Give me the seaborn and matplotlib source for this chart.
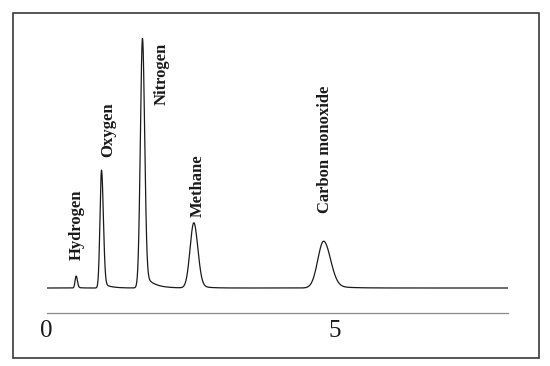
import numpy as np
import pandas as pd
import matplotlib
matplotlib.use("Agg")
import matplotlib.pyplot as plt
import seaborn as sns
from matplotlib.patches import Rectangle

# peak table (time in min, height in detector units)
peak_names = ["Hydrogen", "Oxygen", "Nitrogen", "Methane", "Carbon monoxide"]
retention_times = [0.51, 0.95, 1.66, 2.55, 4.80]
peak_heights = [11.5, 115, 241, 63, 45]
sigma_left = [0.018, 0.026, 0.036, 0.065, 0.10]
sigma_right = [0.022, 0.032, 0.038, 0.07, 0.12]
tail_fraction = [0.08, 0.05, 0.07, 0.07, 0.08]
tail_tau = [0.06, 0.12, 0.15, 0.14, 0.25]

# label anchor (centre x, bottom of text) for each peak name
label_x = [0.525, 1.06, 2.00, 2.62, 4.82]
label_y = [28, 131, 183, 71, 75]

# -------------------
# BUILD THE SIGNAL
# -------------------
t = np.linspace(0, 8, 4001)
signal = np.zeros_like(t)
for t0, h, sl, sr, frac, tau in zip(retention_times, peak_heights, sigma_left,
                                    sigma_right, tail_fraction, tail_tau):
    s = np.where(t < t0, sl, sr)
    core = np.exp(-0.5 * ((t - t0) / s) ** 2)
    step = 0.5 * (1 + np.tanh((t - t0) / sr))
    tail = frac * np.exp(-np.clip(t - t0, 0, None) / tau) * step
    signal += h * (core + tail)

df = pd.DataFrame({"time": t, "signal": signal})

# -------------------
# PLOT
# -------------------
sns.set_style("white")
plt.rcParams["font.family"] = ["Liberation Serif", "DejaVu Serif"]

fig = plt.figure(figsize=(5.5, 3.66), dpi=100)
ax = fig.add_axes([46.7 / 550, 53 / 366, (508 - 46.7) / 550, 300 / 366])

sns.lineplot(data=df, x="time", y="signal", ax=ax, color="#1a1a1a", linewidth=0.9)

for name, x, y in zip(peak_names, label_x, label_y):
    ax.text(x, y, name, rotation=90, ha="center", va="bottom",
            fontsize=12, fontweight="bold", color="#1a1a1a")

ax.set_xlim(0, 8)
ax.set_ylim(-25, 275)
ax.set_xlabel("")
ax.set_ylabel("")
ax.set_yticks([])
for side in ["top", "right", "left"]:
    ax.spines[side].set_visible(False)
ax.spines["bottom"].set_color("#8a8a8a")
ax.spines["bottom"].set_linewidth(0.9)

ax.set_xticks([0, 5])
ax.set_xticks([2.5, 7.5], minor=True)
ax.tick_params(axis="x", which="major", direction="in", length=4, width=0.8,
               color="#555555", labelsize=18, pad=5, labelcolor="#1a1a1a")
ax.tick_params(axis="x", which="minor", direction="in", length=2, width=0.8,
               color="#777777")
ax.patch.set_alpha(0)

# outer frame
fig.add_artist(Rectangle((13 / 550, 8 / 366), 526 / 550, 345 / 366,
                         transform=fig.transFigure, fill=False,
                         edgecolor="#3a3a3a", linewidth=1.2))

fig.savefig("out.png", dpi=100)
